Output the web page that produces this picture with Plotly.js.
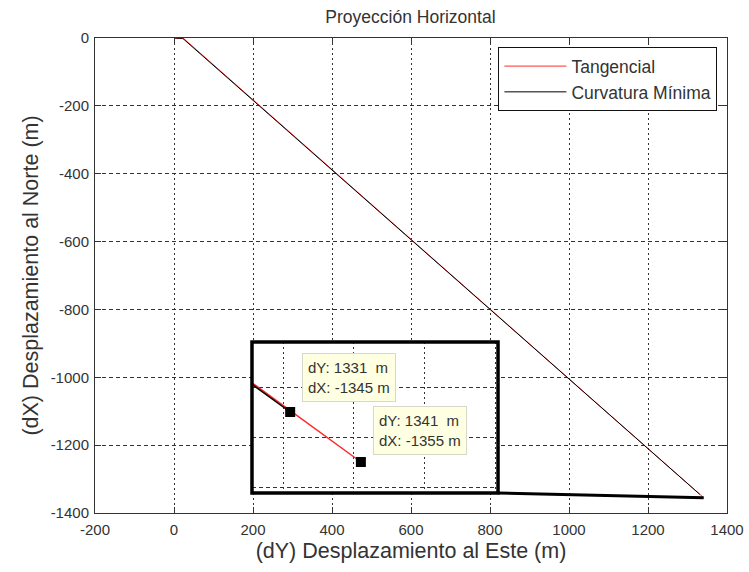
<!DOCTYPE html>
<html>
<head>
<meta charset="utf-8">
<script src="https://cdn.plot.ly/plotly-3.0.1.min.js"></script>
<style>html,body{margin:0;padding:0;background:#fff;}#chart{width:749px;height:572px;}</style>
</head>
<body>
<div id="chart"></div>
<script>
// ---- data ----
const tangencialDY = [0, 0, 25, 1341];
const tangencialDX = [0, 0, -2, -1355];
const curvaturaDY = [0, 0, 22, 1331];
const curvaturaDX = [0, 0, -1, -1345];
const tipDY = [1331, 1341];
const tipDX = [-1345, -1355];
const xTicks = [-200, 0, 200, 400, 600, 800, 1000, 1200, 1400];
const yTicks = [-1400, -1200, -1000, -800, -600, -400, -200, 0];

const FONT = "Arial, 'Liberation Sans', sans-serif";
const RED = '#ff2a2a';

const insetX = [1325.6, 1360.4];
const insetY = [-1361.2, -1331];
const insetDomX = [0.2484, 0.6377];
const insetDomY = [0.0421, 0.36];
const mainX = [-200, 1400];
const mainY = [-1400, 0];

const traces = [
  {x: tangencialDY, y: tangencialDX, type: 'scatter', mode: 'lines', name: 'Tangencial',
   line: {color: RED, width: 1}, xaxis: 'x', yaxis: 'y'},
  {x: curvaturaDY, y: curvaturaDX, type: 'scatter', mode: 'lines', name: 'Curvatura Mínima',
   line: {color: '#000', width: 1}, xaxis: 'x', yaxis: 'y'},
  {x: tangencialDY, y: tangencialDX, type: 'scatter', mode: 'lines', showlegend: false,
   line: {color: RED, width: 1.5}, xaxis: 'x2', yaxis: 'y2'},
  {x: curvaturaDY, y: curvaturaDX, type: 'scatter', mode: 'lines', showlegend: false,
   line: {color: '#000', width: 1.5}, xaxis: 'x2', yaxis: 'y2'},
  {x: tipDY, y: tipDX, type: 'scatter', mode: 'markers', showlegend: false,
   marker: {symbol: 'square', size: 10, color: '#000'}, xaxis: 'x2', yaxis: 'y2', cliponaxis: false}
];

// inset corner in main data coords
const cornerX = mainX[0] + insetDomX[1] * (mainX[1] - mainX[0]);
const cornerY = mainY[0] + insetDomY[0] * (mainY[1] - mainY[0]);

const axisCommon = {
  showline: true, linecolor: '#333', linewidth: 1, mirror: 'ticks',
  ticks: 'inside', ticklen: 6, tickcolor: '#333', zeroline: false,
  showgrid: true, gridcolor: '#333', gridwidth: 1,
  tickfont: {family: FONT, size: 15, color: '#333'}
};

const layout = {
  width: 749, height: 572,
  margin: {l: 95, r: 22, t: 38, b: 59},
  paper_bgcolor: '#fff', plot_bgcolor: '#fff',
  font: {family: FONT, color: '#333'},
  title: {text: 'Proyección Horizontal', font: {family: FONT, size: 17.5, color: '#333'},
          x: 0.548, xanchor: 'center', y: 0.97, yanchor: 'middle'},
  xaxis: Object.assign({}, axisCommon, {
    range: mainX, tickvals: xTicks, ticktext: xTicks.map(String), griddash: '2px,3px',
    ticklabelstandoff: 3,
    title: {text: '(dY) Desplazamiento al Este (m)', font: {family: FONT, size: 21.5, color: '#333'}, standoff: 5}
  }),
  yaxis: Object.assign({}, axisCommon, {
    range: mainY, tickvals: yTicks, ticktext: yTicks.map(String), griddash: '4px,3px',
    ticklabelstandoff: 2,
    title: {text: '(dX) Desplazamiento al Norte (m)', font: {family: FONT, size: 21.5, color: '#333'}, standoff: 6}
  }),
  xaxis2: {domain: insetDomX, anchor: 'y2', range: insetX, dtick: 10, showticklabels: false,
           ticks: '', showline: false, zeroline: false, showgrid: true, gridcolor: '#333',
           griddash: '2px,3px'},
  yaxis2: {domain: insetDomY, anchor: 'x2', range: insetY, dtick: 10, showticklabels: false,
           ticks: '', showline: false, zeroline: false, showgrid: true, gridcolor: '#333',
           griddash: '4px,3px'},
  legend: {x: 0.638, y: 0.981, xanchor: 'left', yanchor: 'top', bgcolor: '#fff',
           bordercolor: '#111', borderwidth: 1.2, itemwidth: 62,
           font: {family: FONT, size: 17.5, color: '#333'}},
  shapes: [
    {type: 'rect', xref: 'paper', yref: 'paper', x0: insetDomX[0], x1: insetDomX[1],
     y0: insetDomY[0], y1: insetDomY[1], line: {color: '#000', width: 3.5}, layer: 'above'},
    {type: 'line', xref: 'x', yref: 'y', x0: cornerX, y0: cornerY,
     x1: tangencialDY[tangencialDY.length - 1], y1: tangencialDX[tangencialDX.length - 1],
     line: {color: '#000', width: 3}, layer: 'above'}
  ],
  annotations: [
    {xref: 'x2', yref: 'y2', x: tipDY[0], y: tipDX[0], showarrow: false,
     xanchor: 'left', yanchor: 'bottom', xshift: 12, yshift: 10, align: 'left',
     text: 'dY: ' + tipDY[0] + '\u00a0\u00a0m<br>dX: ' + tipDX[0] + ' m',
     font: {family: FONT, size: 15, color: '#333'}, bgcolor: '#ffffe1',
     bordercolor: '#d8d8c8', borderwidth: 1, borderpad: 5},
    {xref: 'x2', yref: 'y2', x: tipDY[1], y: tipDX[1], showarrow: false,
     xanchor: 'left', yanchor: 'bottom', xshift: 12, yshift: 7, align: 'left',
     text: 'dY: ' + tipDY[1] + '\u00a0\u00a0m<br>dX: ' + tipDX[1] + ' m',
     font: {family: FONT, size: 15, color: '#333'}, bgcolor: '#ffffe1',
     bordercolor: '#d8d8c8', borderwidth: 1, borderpad: 5}
  ]
};

Plotly.newPlot('chart', traces, layout, {displayModeBar: false, staticPlot: true});
</script>
</body>
</html>
